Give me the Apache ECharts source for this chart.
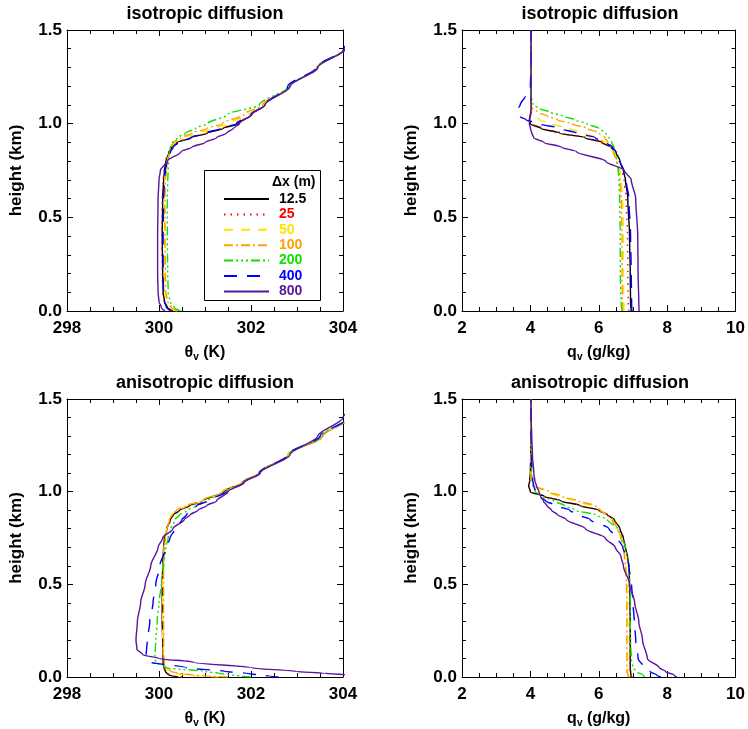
<!DOCTYPE html>
<html>
<head>
<meta charset="utf-8">
<script src="https://cdn.jsdelivr.net/npm/echarts@6/dist/echarts.min.js"></script>
<style>html,body{margin:0;padding:0;background:#fff}#c{width:748px;height:729px}</style>
</head>
<body>
<div id="c"></div>
<script>
// ---------------- data ----------------
const seriesNames = ['12.5', '25', '50', '100', '200', '400', '800'];
const panelTitles = ['isotropic diffusion', 'isotropic diffusion', 'anisotropic diffusion', 'anisotropic diffusion'];
const thetaTicks = [298, 300, 302, 304];
const qTicks = [2, 4, 6, 8, 10];
const heightTicks = [0.0, 0.5, 1.0, 1.5];

// Panel A: isotropic, theta_v (K)
const hIsoTheta = [0, 0.02, 0.05, 0.1, 0.2, 0.4, 0.6, 0.7, 0.75, 0.8, 0.85, 0.875, 0.9, 0.925, 0.95, 0.975, 1.0, 1.05, 1.1, 1.2, 1.3, 1.4, 1.5];
const isoTheta = [
  [300.30, 300.18, 300.12, 300.09, 300.08, 300.07, 300.08, 300.10, 300.12, 300.15, 300.22, 300.28, 300.40, 300.70, 301.05, 301.40, 301.72, 302.02, 302.30, 302.85, 303.45, 304.05, 304.6],
  [300.28, 300.17, 300.11, 300.08, 300.07, 300.06, 300.07, 300.09, 300.11, 300.14, 300.21, 300.27, 300.38, 300.68, 301.02, 301.38, 301.70, 302.02, 302.30, 302.85, 303.45, 304.05, 304.6],
  [300.38, 300.25, 300.17, 300.13, 300.12, 300.12, 300.12, 300.13, 300.15, 300.18, 300.23, 300.27, 300.34, 300.55, 300.85, 301.20, 301.52, 301.95, 302.28, 302.85, 303.45, 304.05, 304.6],
  [300.40, 300.27, 300.19, 300.15, 300.14, 300.13, 300.13, 300.14, 300.16, 300.19, 300.23, 300.26, 300.31, 300.48, 300.72, 301.05, 301.38, 301.85, 302.25, 302.85, 303.45, 304.05, 304.6],
  [300.47, 300.33, 300.24, 300.20, 300.19, 300.18, 300.18, 300.19, 300.20, 300.21, 300.23, 300.25, 300.30, 300.40, 300.58, 300.80, 301.05, 301.50, 302.18, 302.82, 303.43, 304.03, 304.6],
  [300.26, 300.16, 300.12, 300.10, 300.09, 300.09, 300.10, 300.12, 300.14, 300.18, 300.25, 300.31, 300.42, 300.68, 301.00, 301.35, 301.68, 302.00, 302.30, 302.80, 303.42, 304.02, 304.6],
  [300.13, 300.05, 300.00, 299.98, 299.97, 299.97, 299.98, 300.00, 300.03, 300.18, 300.48, 300.72, 301.00, 301.25, 301.47, 301.62, 301.75, 302.02, 302.30, 302.85, 303.45, 304.05, 304.6]
];

// Panel B: isotropic, q_v (g/kg)
const hIsoQ = [0, 0.05, 0.2, 0.4, 0.6, 0.7, 0.75, 0.8, 0.85, 0.875, 0.9, 0.925, 0.95, 0.975, 1.0, 1.02, 1.04, 1.06, 1.08, 1.1, 1.15, 1.2, 1.3, 1.5];
const isoQ = [
  [6.95, 6.93, 6.92, 6.90, 6.85, 6.78, 6.72, 6.62, 6.50, 6.35, 6.10, 5.60, 4.85, 4.30, 4.00, 3.97, 3.99, 4.01, 4.02, 4.02, 4.02, 4.02, 4.02, 4.02],
  [6.88, 6.86, 6.85, 6.84, 6.80, 6.74, 6.68, 6.60, 6.47, 6.33, 6.08, 5.62, 4.90, 4.35, 4.02, 3.99, 4.00, 4.01, 4.02, 4.02, 4.02, 4.02, 4.02, 4.02],
  [6.74, 6.73, 6.72, 6.72, 6.70, 6.66, 6.62, 6.55, 6.45, 6.36, 6.20, 5.95, 5.55, 5.12, 4.60, 4.28, 4.10, 4.04, 4.02, 4.02, 4.02, 4.02, 4.02, 4.02],
  [6.70, 6.69, 6.68, 6.68, 6.66, 6.62, 6.58, 6.52, 6.42, 6.35, 6.27, 6.18, 6.00, 5.65, 5.20, 4.80, 4.50, 4.25, 4.06, 4.02, 4.02, 4.02, 4.02, 4.02],
  [6.68, 6.65, 6.63, 6.63, 6.61, 6.59, 6.57, 6.53, 6.48, 6.44, 6.38, 6.30, 6.20, 6.00, 5.65, 5.32, 4.95, 4.60, 4.28, 4.08, 4.02, 4.02, 4.02, 4.02],
  [6.97, 6.96, 6.95, 6.93, 6.88, 6.80, 6.73, 6.62, 6.50, 6.40, 6.20, 5.90, 5.35, 4.85, 4.25, 3.88, 3.68, 3.65, 3.64, 3.70, 3.86, 4.00, 4.02, 4.02],
  [7.18, 7.17, 7.15, 7.14, 7.08, 6.95, 6.75, 6.20, 5.35, 4.90, 4.40, 4.10, 4.04, 4.00, 3.97, 3.98, 4.00, 4.02, 4.02, 4.02, 4.02, 4.02, 4.02, 4.02]
];

// Panel C: anisotropic, theta_v (K)
const hAniTheta = [0, 0.005, 0.01, 0.02, 0.03, 0.05, 0.08, 0.1, 0.12, 0.15, 0.2, 0.3, 0.4, 0.5, 0.6, 0.7, 0.75, 0.8, 0.85, 0.875, 0.9, 0.925, 0.95, 1.0, 1.05, 1.1, 1.2, 1.3, 1.4, 1.5];
const aniTheta = [
  [300.42, 300.30, 300.22, 300.17, 300.14, 300.11, 300.09, 300.09, 300.08, 300.08, 300.08, 300.07, 300.07, 300.07, 300.08, 300.10, 300.12, 300.17, 300.25, 300.31, 300.45, 300.67, 300.95, 301.42, 301.82, 302.18, 302.82, 303.55, 304.15, 304.7],
  [300.50, 300.34, 300.24, 300.18, 300.14, 300.11, 300.09, 300.09, 300.08, 300.08, 300.08, 300.07, 300.07, 300.07, 300.08, 300.10, 300.12, 300.17, 300.25, 300.31, 300.45, 300.66, 300.94, 301.42, 301.82, 302.18, 302.82, 303.55, 304.15, 304.7],
  [301.30, 300.90, 300.60, 300.35, 300.22, 300.14, 300.10, 300.10, 300.09, 300.09, 300.08, 300.08, 300.08, 300.08, 300.09, 300.11, 300.13, 300.16, 300.22, 300.28, 300.40, 300.62, 300.95, 301.45, 301.84, 302.18, 302.82, 303.55, 304.15, 304.7],
  [301.50, 301.10, 300.75, 300.42, 300.26, 300.15, 300.12, 300.11, 300.10, 300.10, 300.10, 300.10, 300.10, 300.10, 300.10, 300.12, 300.14, 300.18, 300.23, 300.28, 300.38, 300.60, 300.92, 301.38, 301.80, 302.16, 302.80, 303.55, 304.15, 304.7],
  [302.00, 301.80, 301.60, 301.30, 301.00, 300.15, 299.93, 299.91, 299.91, 299.92, 299.93, 299.96, 300.00, 300.05, 300.10, 300.15, 300.20, 300.26, 300.35, 300.45, 300.62, 300.82, 301.05, 301.47, 301.85, 302.18, 302.82, 303.52, 304.12, 304.7],
  [302.60, 302.40, 302.20, 301.90, 301.45, 300.60, 299.82, 299.75, 299.72, 299.73, 299.75, 299.80, 299.87, 299.93, 300.02, 300.15, 300.24, 300.35, 300.50, 300.60, 300.70, 300.82, 301.05, 301.47, 301.85, 302.18, 302.80, 303.50, 304.12, 304.7],
  [304.60, 304.40, 304.20, 303.60, 303.00, 302.00, 300.75, 300.00, 299.65, 299.52, 299.50, 299.53, 299.60, 299.70, 299.82, 299.98, 300.08, 300.30, 300.55, 300.68, 300.85, 301.04, 301.25, 301.50, 301.85, 302.20, 302.85, 303.45, 304.00, 304.6]
];

// Panel D: anisotropic, q_v (g/kg)
const hAniQ = [0, 0.01, 0.03, 0.05, 0.1, 0.2, 0.3, 0.4, 0.5, 0.6, 0.65, 0.7, 0.75, 0.8, 0.85, 0.875, 0.9, 0.925, 0.95, 0.975, 1.0, 1.03, 1.06, 1.1, 1.2, 1.3, 1.4, 1.5];
const aniQ = [
  [6.97, 6.94, 6.93, 6.92, 6.92, 6.92, 6.92, 6.91, 6.90, 6.88, 6.84, 6.78, 6.72, 6.62, 6.45, 6.25, 6.00, 5.45, 4.90, 4.40, 4.00, 3.95, 3.98, 4.00, 4.01, 4.02, 4.02, 4.02],
  [6.96, 6.93, 6.92, 6.91, 6.91, 6.91, 6.91, 6.90, 6.89, 6.87, 6.83, 6.77, 6.71, 6.61, 6.44, 6.25, 6.00, 5.47, 4.92, 4.42, 4.02, 3.96, 3.98, 4.00, 4.01, 4.02, 4.02, 4.02],
  [6.90, 6.86, 6.85, 6.85, 6.85, 6.85, 6.85, 6.84, 6.83, 6.80, 6.77, 6.72, 6.66, 6.57, 6.40, 6.24, 6.05, 5.75, 5.30, 4.80, 4.45, 4.10, 4.03, 4.02, 4.02, 4.02, 4.02, 4.02],
  [6.92, 6.85, 6.82, 6.82, 6.82, 6.82, 6.82, 6.82, 6.81, 6.78, 6.75, 6.72, 6.65, 6.55, 6.38, 6.22, 6.05, 5.90, 5.40, 4.90, 4.55, 4.15, 4.03, 4.02, 4.02, 4.02, 4.02, 4.02],
  [7.35, 7.30, 7.10, 7.00, 6.95, 6.93, 6.92, 6.92, 6.91, 6.88, 6.85, 6.78, 6.68, 6.55, 6.25, 5.90, 5.32, 5.00, 4.68, 4.35, 4.15, 4.07, 4.05, 4.04, 4.03, 4.02, 4.02, 4.02],
  [7.82, 7.70, 7.50, 7.33, 7.15, 7.08, 7.04, 7.00, 6.96, 6.88, 6.80, 6.70, 6.55, 6.30, 5.75, 5.40, 5.15, 4.75, 4.45, 4.25, 4.15, 4.10, 4.07, 4.05, 4.03, 4.02, 4.02, 4.02],
  [8.28, 8.20, 7.95, 7.77, 7.42, 7.28, 7.17, 7.05, 6.90, 6.72, 6.65, 6.48, 6.19, 5.61, 5.05, 4.80, 4.62, 4.48, 4.38, 4.30, 4.25, 4.18, 4.13, 4.10, 4.06, 4.04, 4.02, 4.02]
];

// ---------------- styles ----------------
const colors = ['#000000', '#ff0000', '#ffe400', '#ffa000', '#11e000', '#0000ff', '#5a14a0'];
const dashes = ['solid', [1.5, 5], [9, 8], [9, 3, 2, 3], [9, 3, 2, 3, 2, 3, 2, 3], [13, 10], 'solid'];
const FONT = '"Liberation Sans", Arial, Helvetica, sans-serif';

const grids = [
  { left: 67, top: 30, width: 276, height: 281 },
  { left: 462, top: 30, width: 276, height: 281 },
  { left: 67, top: 399, width: 276, height: 281 },
  { left: 462, top: 399, width: 276, height: 281 }
];
const panelData = [
  { h: hIsoTheta, v: isoTheta, kind: 'theta' },
  { h: hIsoQ, v: isoQ, kind: 'q' },
  { h: hAniTheta, v: aniTheta, kind: 'theta' },
  { h: hAniQ, v: aniQ, kind: 'q' }
];

function xAxisFor(i, top) {
  const kind = panelData[i].kind;
  const ticks = kind === 'theta' ? thetaTicks : qTicks;
  return {
    type: 'value', gridIndex: i, position: top ? 'top' : 'bottom',
    min: ticks[0], max: ticks[ticks.length - 1], interval: ticks[1] - ticks[0],
    axisLine: { show: true, onZero: false, lineStyle: { color: '#000', width: 1 } },
    axisTick: { show: true, inside: true, length: 6, lineStyle: { color: '#000' } },
    minorTick: { show: true, splitNumber: 4, length: 4, lineStyle: { color: '#000' } },
    splitLine: { show: false },
    axisLabel: top ? { show: false } : { show: true, color: '#000', fontFamily: FONT, fontWeight: 'bold', fontSize: 17, margin: 9 },
    name: top ? '' : (kind === 'theta' ? '{t|θ}{s|v}{t| (K)}' : '{t|q}{s|v}{t| (g/kg)}'),
    nameLocation: 'middle', nameGap: 32,
    nameTextStyle: {
      color: '#000', fontFamily: FONT, fontWeight: 'bold', fontSize: 16,
      rich: {
        t: { fontFamily: FONT, fontWeight: 'bold', fontSize: 16, color: '#000' },
        s: { fontFamily: FONT, fontWeight: 'bold', fontSize: 10, color: '#000', padding: [9, 0, 0, 0] }
      }
    }
  };
}
function yAxisFor(i, right) {
  return {
    type: 'value', gridIndex: i, position: right ? 'right' : 'left',
    min: heightTicks[0], max: heightTicks[heightTicks.length - 1], interval: 0.5,
    axisLine: { show: true, onZero: false, lineStyle: { color: '#000', width: 1 } },
    axisTick: { show: true, inside: true, length: 6, lineStyle: { color: '#000' } },
    minorTick: { show: true, splitNumber: 5, length: 4, lineStyle: { color: '#000' } },
    splitLine: { show: false },
    axisLabel: right ? { show: false } : { show: true, color: '#000', fontFamily: FONT, fontWeight: 'bold', fontSize: 17, margin: 5, formatter: v => v.toFixed(1) },
    name: right ? '' : 'height (km)',
    nameLocation: 'middle', nameGap: 42, nameRotate: 90,
    nameTextStyle: { color: '#000', fontFamily: FONT, fontWeight: 'bold', fontSize: 17 }
  };
}

const xAxes = [], yAxes = [];
for (let i = 0; i < 4; i++) { xAxes.push(xAxisFor(i, false)); yAxes.push(yAxisFor(i, false)); }
for (let i = 0; i < 4; i++) { xAxes.push(xAxisFor(i, true)); yAxes.push(yAxisFor(i, true)); }

const series = [];
for (let p = 0; p < 4; p++) {
  const pd = panelData[p];
  seriesNames.forEach((name, k) => {
    series.push({
      type: 'line', name: name, xAxisIndex: p, yAxisIndex: p,
      data: pd.h.map((h, j) => [pd.v[k][j], h]),
      showSymbol: false, symbol: 'none', smooth: 0.3, smoothMonotone: 'y', clip: true,
      lineStyle: { color: colors[k], width: 1.4, type: dashes[k] },
      itemStyle: { color: colors[k] },
      animation: false, silent: true
    });
  });
}

const titleGraphics = panelTitles.map((t, i) => ({
  type: 'text', z: 10,
  x: grids[i].left + grids[i].width / 2, y: grids[i].top - 16,
  style: { text: t, fill: '#000', font: 'bold 18px ' + FONT, textAlign: 'center', textVerticalAlign: 'middle' }
}));

const option = {
  animation: false,
  backgroundColor: '#fff',
  grid: grids,
  xAxis: xAxes,
  yAxis: yAxes,
  series: series,
  legend: {
    left: 218, top: 187, orient: 'vertical', selectedMode: false,
    itemWidth: 45, itemHeight: 14, itemGap: 1.4, z: 6,
    itemStyle: { opacity: 0, borderWidth: 0 },
    textStyle: { fontFamily: FONT, fontWeight: 'bold', fontSize: 14, padding: [0, 0, 0, 5] },
    data: seriesNames.map((n, i) => ({ name: n, textStyle: { color: colors[i], fontFamily: FONT, fontWeight: 'bold', fontSize: 14 } }))
  },
  graphic: titleGraphics.concat([
    { type: 'rect', z: 5, shape: { x: 204.5, y: 170.5, width: 116, height: 130 }, style: { fill: '#fff', stroke: '#000', lineWidth: 1 } },
    { type: 'text', z: 7, x: 272, y: 182, style: { text: 'Δx (m)', fill: '#000', font: 'bold 14px ' + FONT, textVerticalAlign: 'middle' } }
  ])
};

const chart = echarts.init(document.getElementById('c'), null, { renderer: 'canvas' });
chart.setOption(option);
</script>
</body>
</html>
